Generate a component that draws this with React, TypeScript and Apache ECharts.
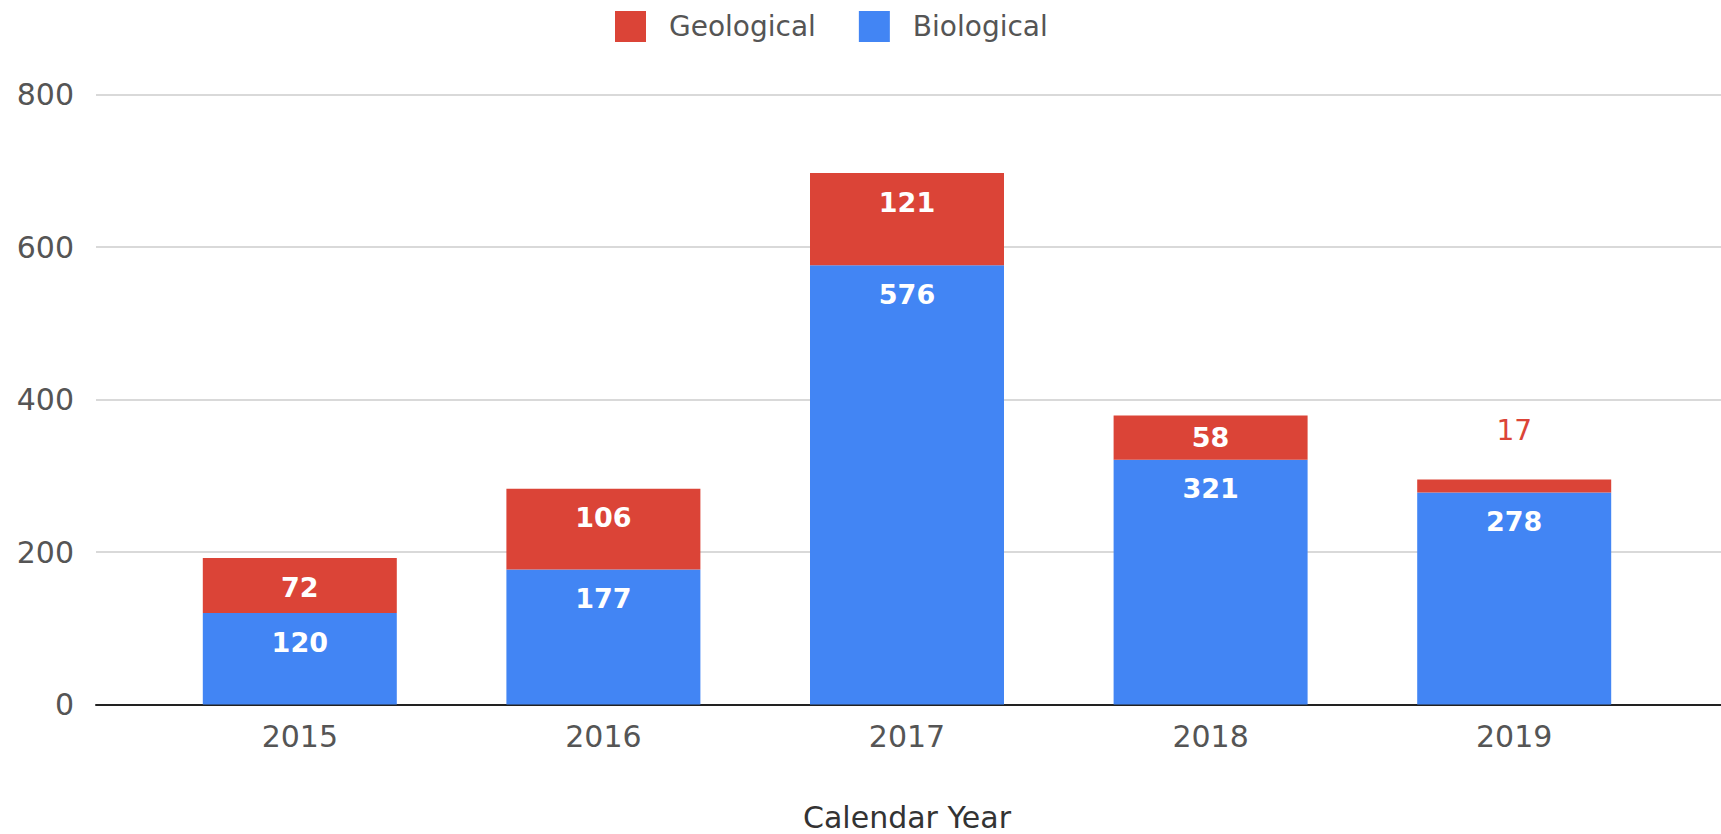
import React, { useEffect, useRef } from "react";
import * as echarts from "echarts";

const years = ["2015", "2016", "2017", "2018", "2019"];
const biological = [120, 177, 576, 321, 278];
const geological = [72, 106, 121, 58, 17];
const yTicks = { min: 0, max: 800, interval: 200 };

const RED = "#db4437";
const BLUE = "#4285f4";
const FONT = "DejaVu Sans";

function segLabel(v: number, isTopSeries: boolean) {
  const base = { show: true, fontSize: 27, fontWeight: "bold", lineHeight: 30, fontFamily: FONT };
  if (isTopSeries && v < 30) {
    return { ...base, position: "top", distance: 34, color: RED, fontWeight: "normal", fontSize: 28 };
  }
  if (v < 70) {
    return { ...base, position: "inside", color: "#fff" };
  }
  return { ...base, position: "insideTop", distance: 14, color: "#fff" };
}

export default function App() {
  const ref = useRef<HTMLDivElement>(null);
  useEffect(() => {
    const chart = echarts.init(ref.current!, null, { renderer: "svg" });
    const top = 94.5;
    const bottom = 129.5;
    chart.setOption({
      animation: false,
      textStyle: { fontFamily: FONT },
      legend: {
        top: 6,
        left: 610,
        itemWidth: 31,
        itemHeight: 31,
        itemGap: 43,
        icon: "rect",
        data: ["Geological", "Biological"],
        textStyle: { fontSize: 28, color: "#555", fontFamily: FONT, padding: [0, 0, 0, 18] },
      },
      grid: [
        { left: 148, right: 55, top, bottom, outerBoundsMode: "none", containLabel: false },
        { left: 96, right: 0, top, bottom, outerBoundsMode: "none", containLabel: false },
      ],
      xAxis: [
        {
          type: "category",
          gridIndex: 0,
          data: years,
          axisLine: { show: false },
          axisTick: { show: false },
          axisLabel: { fontSize: 30, color: "#555", margin: 17, fontFamily: FONT },
          name: "Calendar Year",
          nameLocation: "middle",
          nameGap: 98,
          nameTextStyle: { fontSize: 30, color: "#333", fontFamily: FONT },
        },
        {
          type: "value",
          gridIndex: 1,
          min: 0,
          max: 1,
          axisLine: { show: true, lineStyle: { color: "#222", width: 2 } },
          axisTick: { show: false },
          axisLabel: { show: false },
          splitLine: { show: false },
        },
      ],
      yAxis: [
        {
          type: "value",
          gridIndex: 0,
          ...yTicks,
          axisLine: { show: false },
          axisTick: { show: false },
          axisLabel: { show: false },
          splitLine: { show: false },
        },
        {
          type: "value",
          gridIndex: 1,
          ...yTicks,
          axisLine: { show: false },
          axisTick: { show: false },
          axisLabel: { fontSize: 30, color: "#555", margin: 22, fontFamily: FONT },
          splitLine: { lineStyle: { color: "#cccccc", width: 1.5 } },
        },
      ],
      series: [
        {
          name: "Biological",
          type: "bar",
          stack: "total",
          xAxisIndex: 0,
          yAxisIndex: 0,
          barWidth: 194,
          itemStyle: { color: BLUE },
          data: biological.map((v) => ({ value: v, label: segLabel(v, false) })),
        },
        {
          name: "Geological",
          type: "bar",
          stack: "total",
          xAxisIndex: 0,
          yAxisIndex: 0,
          barWidth: 194,
          itemStyle: { color: RED },
          data: geological.map((v) => ({ value: v, label: segLabel(v, true) })),
        },
      ],
    });
    return () => chart.dispose();
  }, []);
  return (
    <div
      ref={ref}
      style={{ position: "fixed", left: 0, top: 0, width: 1721, height: 834, background: "#fff" }}
    />
  );
}
